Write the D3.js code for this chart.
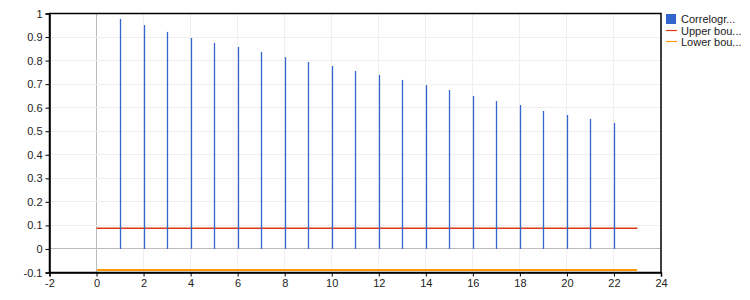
<!DOCTYPE html>
<html><head><meta charset="utf-8">
<script src="https://cdn.jsdelivr.net/npm/d3@7"></script>
<style>body{margin:0;background:#fff}svg{display:block}text{font-family:"Liberation Sans",Arial,sans-serif;font-size:11px;fill:#222}</style>
</head><body><svg id="c" width="750" height="300"></svg>
<script>
const lags = [1,2,3,4,5,6,7,8,9,10,11,12,13,14,15,16,17,18,19,20,21,22];
const acf = [0.977,0.951,0.922,0.896,0.875,0.858,0.837,0.815,0.794,0.777,0.756,0.739,0.718,0.696,0.675,0.650,0.628,0.611,0.586,0.569,0.552,0.535];
const upperBound = 0.088;
const lowerBound = -0.0915;
const boundRange = [0, 23];
const xTicks = [-2,0,2,4,6,8,10,12,14,16,18,20,22,24];
const yTicks = [-0.1,0,0.1,0.2,0.3,0.4,0.5,0.6,0.7,0.8,0.9,1];
const legendLabels = ["Correlogr...","Upper bou...","Lower bou..."];
const colors = {acf:"#3366cc", upper:"#dc3912", lower:"#ff9900"};

const svg = d3.select("#c");
const L=49.5, R=661, T=13.5, B=272.5;
const x = d3.scaleLinear().domain([-2,24]).range([L,R]);
const y = d3.scaleLinear().domain([-0.1,1]).range([B,T]);

// gridlines
svg.append("g").selectAll("line").data(xTicks).join("line")
  .attr("x1",d=>x(d)).attr("x2",d=>x(d)).attr("y1",T).attr("y2",B)
  .attr("stroke",d=>d===0?"#bbbbbb":"#efefef").attr("stroke-width",1).attr("shape-rendering","crispEdges");
svg.append("g").selectAll("line").data(yTicks).join("line")
  .attr("y1",d=>y(d)).attr("y2",d=>y(d)).attr("x1",L).attr("x2",R)
  .attr("stroke",d=>d===0?"#bbbbbb":"#efefef").attr("stroke-width",1).attr("shape-rendering","crispEdges");

// bounds
const line = d3.line().x(d=>x(d[0])).y(d=>y(d[1]));
svg.append("path").attr("d",line(boundRange.map(v=>[v,upperBound])))
  .attr("stroke",colors.upper).attr("stroke-width",1.3).attr("fill","none");
svg.append("path").attr("d",line(boundRange.map(v=>[v,lowerBound])))
  .attr("stroke",colors.lower).attr("stroke-width",2).attr("fill","none").attr("shape-rendering","crispEdges");

// stems
svg.append("g").selectAll("line").data(lags).join("line")
  .attr("x1",(d)=>Math.round(x(d))+0.5).attr("x2",(d)=>Math.round(x(d))+0.5)
  .attr("y1",y(0)).attr("y2",(d,i)=>y(acf[i]))
  .attr("stroke",colors.acf).attr("stroke-width",1.3);

// frame
svg.append("rect").attr("x",L).attr("y",T).attr("width",R-L).attr("height",B-T)
  .attr("fill","none").attr("stroke","#000").attr("stroke-width",1.5);

// axes
const fmt = d => String(+(+d).toFixed(1));
const xAxis = svg.append("g").attr("transform",`translate(0,${B})`)
  .call(d3.axisBottom(x).tickValues(xTicks).tickSize(4).tickPadding(3).tickFormat(fmt));
const yAxis = svg.append("g").attr("transform",`translate(${L},0)`)
  .call(d3.axisLeft(y).tickValues(yTicks).tickSize(4).tickPadding(3).tickFormat(fmt));
[xAxis,yAxis].forEach(a=>{a.select(".domain").attr("stroke","#000").attr("stroke-width",1.5);
  a.selectAll(".tick line").attr("stroke","#000");
  a.selectAll("text").attr("font-size",11).attr("font-family","'Liberation Sans',Arial,sans-serif").attr("fill","#222");});

// legend
const lg = svg.append("g").attr("transform","translate(666,0)");
lg.append("rect").attr("x",0).attr("y",14).attr("width",10).attr("height",10).attr("fill",colors.acf);
lg.append("line").attr("x1",0).attr("x2",11).attr("y1",30.5).attr("y2",30.5).attr("stroke",colors.upper).attr("stroke-width",1.2);
lg.append("line").attr("x1",0).attr("x2",11).attr("y1",41.5).attr("y2",41.5).attr("stroke",colors.lower).attr("stroke-width",1.2);
lg.selectAll("text").data(legendLabels).join("text")
  .attr("x",15).attr("y",(d,i)=>23+i*11.5).text(d=>d);
</script></body></html>
